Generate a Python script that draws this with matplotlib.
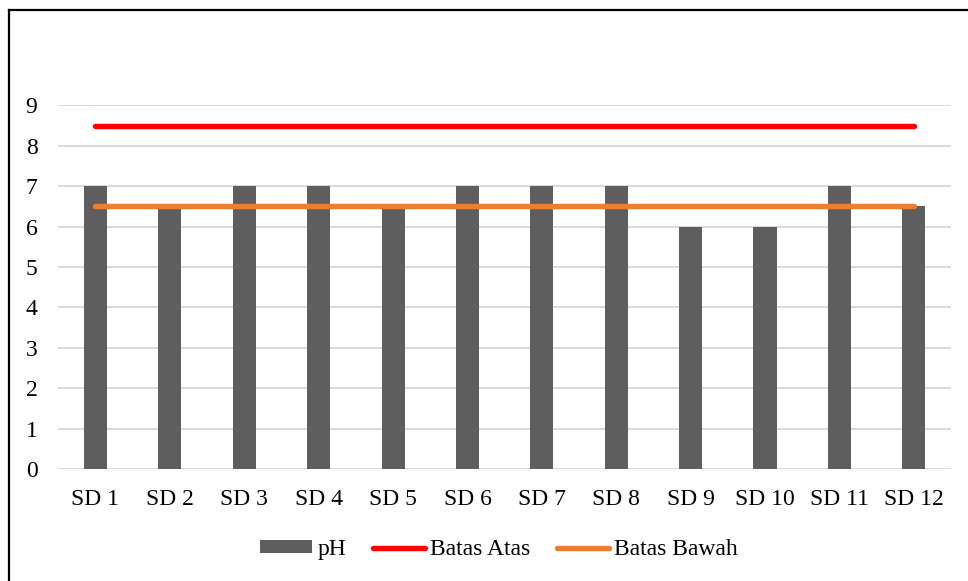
import matplotlib
matplotlib.use("Agg")
import matplotlib.pyplot as plt
from matplotlib.lines import Line2D
from matplotlib.patches import Patch

# Data
sites = ["SD 1", "SD 2", "SD 3", "SD 4", "SD 5", "SD 6",
         "SD 7", "SD 8", "SD 9", "SD 10", "SD 11", "SD 12"]
ph_values = [7, 6.5, 7, 7, 6.5, 7, 7, 7, 6, 6, 7, 6.5]
upper_limit = [8.5] * len(sites)
lower_limit = [6.5] * len(sites)
y_ticks = [0, 1, 2, 3, 4, 5, 6, 7, 8, 9]

BAR_COLOR = "#5E5E5E"
UPPER_COLOR = "#FF0000"
LOWER_COLOR = "#ED7D31"
GRID_COLOR = "#D9D9D9"

plt.rcParams["font.family"] = ["Liberation Serif", "DejaVu Serif"]

W, H = 968, 581
fig = plt.figure(figsize=(W / 100, H / 100), dpi=100)
fig.patch.set_facecolor("white")

ax = fig.add_axes([58.3 / W, 1 - 469 / H, (951 - 58.3) / W, (469 - 105.3) / H])

x = list(range(len(sites)))
ax.bar(x, ph_values, width=0.31, color=BAR_COLOR, zorder=2, label="pH")
ax.plot(x, upper_limit, color=UPPER_COLOR, lw=3.9, solid_capstyle="round",
        zorder=3, label="Batas Atas")
ax.plot(x, lower_limit, color=LOWER_COLOR, lw=3.9, solid_capstyle="round",
        zorder=3, label="Batas Bawah")

ax.set_xlim(-0.5, len(sites) - 0.5)
ax.set_ylim(0, 9)
ax.set_yticks(y_ticks)
ax.set_xticks(x)
ax.set_xticklabels(sites)
ax.yaxis.grid(True, color=GRID_COLOR, lw=1.4, zorder=0)
ax.set_axisbelow(True)
for s in ax.spines.values():
    s.set_visible(False)
ax.tick_params(axis="both", length=0, labelsize=17, colors="black")
ax.tick_params(axis="y", pad=15)
ax.tick_params(axis="x", pad=14.5)

# Legend
handles = [
    Patch(facecolor=BAR_COLOR, edgecolor="none"),
    Line2D([], [], color=UPPER_COLOR, lw=3.9, solid_capstyle="round"),
    Line2D([], [], color=LOWER_COLOR, lw=3.9, solid_capstyle="round"),
]
fig.legend(handles, ["pH", "Batas Atas", "Batas Bawah"], ncol=3,
           loc="center", bbox_to_anchor=(499 / W, 1 - 549.5 / H),
           frameon=False, fontsize=17, handlelength=2.2, handleheight=0.46,
           handletextpad=0.2, columnspacing=1.15, borderaxespad=0)

# Chart frame (top and left edges)
fig.add_artist(Line2D([8.5 / W, 8.5 / W], [0, 1 - 10 / H], color="black",
                      lw=1.6, transform=fig.transFigure))
fig.add_artist(Line2D([8.5 / W, 1], [1 - 10 / H, 1 - 10 / H], color="black",
                      lw=1.6, transform=fig.transFigure))

fig.savefig("out.png", dpi=100)
